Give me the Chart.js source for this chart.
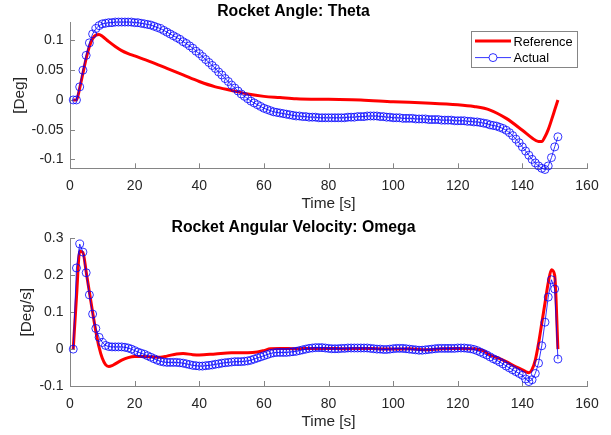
<!DOCTYPE html>
<html>
<head>
<meta charset="utf-8">
<script src="https://cdn.jsdelivr.net/npm/chart.js@4.4.1/dist/chart.umd.min.js"></script>
<style>
  html, body { margin: 0; padding: 0; background: #fff; }
  #wrap { position: relative; width: 611px; height: 435px; }
  canvas { position: absolute; left: 0; }
</style>
</head>
<body>
<div id="wrap">
  <canvas id="thetaChart" width="611" height="215" style="top:0"></canvas>
  <canvas id="omegaChart" width="611" height="220" style="top:215px"></canvas>
</div>
<script>
// sample times of the "Actual" series (one marker per second)
const sampleTime = [
  1, 2, 3, 4, 5, 6, 7, 8, 9, 10, 11, 12, 13, 14, 15, 16, 17, 18, 19, 20,
  21, 22, 23, 24, 25, 26, 27, 28, 29, 30, 31, 32, 33, 34, 35, 36, 37, 38, 39, 40,
  41, 42, 43, 44, 45, 46, 47, 48, 49, 50, 51, 52, 53, 54, 55, 56, 57, 58, 59, 60,
  61, 62, 63, 64, 65, 66, 67, 68, 69, 70, 71, 72, 73, 74, 75, 76, 77, 78, 79, 80,
  81, 82, 83, 84, 85, 86, 87, 88, 89, 90, 91, 92, 93, 94, 95, 96, 97, 98, 99, 100,
  101, 102, 103, 104, 105, 106, 107, 108, 109, 110, 111, 112, 113, 114, 115, 116, 117, 118, 119, 120,
  121, 122, 123, 124, 125, 126, 127, 128, 129, 130, 131, 132, 133, 134, 135, 136, 137, 138, 139, 140,
  141, 142, 143, 144, 145, 146, 147, 148, 149, 150, 151
];

// theta, actual [Deg]
const thetaActual = [
  0, 0, 0.022, 0.05, 0.075, 0.096, 0.111, 0.12, 0.125, 0.128,
  0.129, 0.13, 0.13, 0.131, 0.131, 0.131, 0.131, 0.131, 0.131, 0.13,
  0.13, 0.129, 0.128, 0.127, 0.126, 0.124, 0.122, 0.12, 0.117, 0.114,
  0.111, 0.108, 0.105, 0.102, 0.098, 0.095, 0.091, 0.087, 0.082, 0.078,
  0.073, 0.068, 0.063, 0.058, 0.053, 0.047, 0.042, 0.036, 0.031, 0.025,
  0.02, 0.015, 0.01, 0.006, 0.002, -0.002, -0.005, -0.008, -0.011, -0.014,
  -0.016, -0.018, -0.02, -0.021, -0.022, -0.023, -0.024, -0.025, -0.026, -0.027,
  -0.027, -0.028, -0.028, -0.029, -0.029, -0.029, -0.03, -0.03, -0.03, -0.03,
  -0.03, -0.03, -0.03, -0.03, -0.03, -0.029, -0.029, -0.029, -0.028, -0.028,
  -0.028, -0.027, -0.027, -0.027, -0.027, -0.028, -0.028, -0.029, -0.029, -0.03,
  -0.03, -0.03, -0.031, -0.031, -0.031, -0.031, -0.032, -0.032, -0.032, -0.032,
  -0.033, -0.033, -0.033, -0.033, -0.034, -0.034, -0.034, -0.034, -0.035, -0.035,
  -0.035, -0.035, -0.036, -0.036, -0.037, -0.037, -0.038, -0.039, -0.04, -0.042,
  -0.043, -0.044, -0.046, -0.048, -0.051, -0.055, -0.06, -0.066, -0.072, -0.079,
  -0.086, -0.093, -0.1, -0.106, -0.111, -0.115, -0.117, -0.111, -0.097, -0.079, -0.062
];

// theta, reference [Deg]
const thetaRefTime = [1, 2, 3, 4, 5, 6, 7, 8, 9, 10, 12, 14, 16, 18, 20, 25, 30, 35, 40, 45, 50,
  55, 60, 65, 70, 80, 90, 100, 110, 120, 125, 130, 135, 140, 143, 145, 146, 147, 148, 149, 150, 151];
const thetaRefValue = [0, 0, 0.02, 0.045, 0.07, 0.09, 0.103, 0.109, 0.11, 0.107, 0.098, 0.09, 0.083,
  0.078, 0.074, 0.064, 0.053, 0.042, 0.031, 0.022, 0.016, 0.01, 0.006, 0.004, 0.002, 0.001, 0,
  -0.003, -0.005, -0.008, -0.011, -0.017, -0.031, -0.051, -0.064, -0.07, -0.07, -0.062, -0.05,
  -0.034, -0.017, 0];

// omega, actual [Deg/s]
const omegaActual = [
  0, 0.22, 0.285, 0.263, 0.207, 0.147, 0.095, 0.056, 0.032, 0.018,
  0.01, 0.007, 0.006, 0.006, 0.006, 0.006, 0.005, 0.003, 0, -0.004,
  -0.008, -0.011, -0.014, -0.018, -0.022, -0.026, -0.03, -0.033, -0.035, -0.036,
  -0.036, -0.036, -0.036, -0.037, -0.038, -0.04, -0.042, -0.044, -0.045, -0.046,
  -0.046, -0.045, -0.044, -0.043, -0.041, -0.04, -0.038, -0.037, -0.036, -0.035,
  -0.034, -0.034, -0.034, -0.033, -0.032, -0.03, -0.027, -0.024, -0.021, -0.018,
  -0.015, -0.012, -0.01, -0.009, -0.009, -0.009, -0.009, -0.008, -0.007, -0.006,
  -0.004, -0.002, 0, 0.002, 0.003, 0.004, 0.004, 0.004, 0.003, 0.002,
  0.001, 0.001, 0.001, 0.002, 0.002, 0.003, 0.003, 0.003, 0.003, 0.003,
  0.003, 0.003, 0.002, 0.001, 0, 0, -0.001, -0.001, 0, 0.001,
  0.002, 0.002, 0.002, 0.001, 0, -0.001, -0.002, -0.003, -0.003, -0.002,
  -0.001, 0, 0.001, 0.002, 0.002, 0.002, 0.002, 0.002, 0.002, 0.003,
  0.003, 0.003, 0.002, 0.001, -0.001, -0.004, -0.008, -0.012, -0.016, -0.021,
  -0.026, -0.03, -0.035, -0.04, -0.046, -0.051, -0.056, -0.061, -0.066, -0.071,
  -0.081, -0.088, -0.083, -0.066, -0.038, 0.009, 0.073, 0.141, 0.188, 0.163, -0.027
];

// omega, reference [Deg/s]
const omegaRefTime = [1, 2, 3, 4, 5, 6, 7, 8, 9, 10, 11, 12, 13, 14, 16, 18, 20, 22, 25, 28, 30,
  33, 35, 38, 40, 45, 50, 55, 58, 60, 62, 65, 70, 75, 80, 85, 90, 95, 100, 105, 110, 115, 120,
  125, 128, 130, 133, 135, 138, 140, 141, 142, 143, 144, 145, 146, 147, 148, 149, 150, 151];
const omegaRefValue = [0, 0.14, 0.265, 0.262, 0.21, 0.155, 0.1, 0.048, 0.005, -0.025, -0.042,
  -0.047, -0.045, -0.04, -0.03, -0.023, -0.02, -0.02, -0.021, -0.022, -0.019, -0.013, -0.012,
  -0.015, -0.016, -0.013, -0.01, -0.01, -0.008, -0.004, 0.001, 0.002, 0.001, 0.002, 0.002, 0.001,
  0.002, 0.001, 0, 0.001, -0.002, 0.001, 0.002, 0.001, -0.005, -0.016, -0.026, -0.034, -0.048,
  -0.056, -0.061, -0.064, -0.055, -0.03, 0.015, 0.07, 0.125, 0.18, 0.215, 0.2, 0];

const timeTicks = [0, 20, 40, 60, 80, 100, 120, 140, 160];
const thetaTicks = [-0.1, -0.05, 0, 0.05, 0.1];
const omegaTicks = [-0.1, 0, 0.1, 0.2, 0.3];
const seriesNames = ["Reference", "Actual"];

const fontFamily = "'Liberation Sans', Arial, Helvetica, sans-serif";
const axisColor = "#858585";
const textColor = "#262626";

function pairs(xs, ys) {
  return xs.map((x, i) => ({ x: x, y: ys[i] }));
}

// matlab style ticks pointing into the plot
const innerTicks = {
  id: "innerTicks",
  beforeDatasetsDraw(chart) {
    const ctx = chart.ctx, xs = chart.scales.x, ys = chart.scales.y;
    ctx.save();
    ctx.strokeStyle = axisColor;
    ctx.lineWidth = 1;
    ctx.beginPath();
    xs.ticks.forEach(t => {
      const px = Math.round(xs.getPixelForValue(t.value)) + 0.5;
      ctx.moveTo(px, xs.top);
      ctx.lineTo(px, xs.top - 5);
    });
    ys.ticks.forEach(t => {
      const py = Math.round(ys.getPixelForValue(t.value)) + 0.5;
      ctx.moveTo(ys.right, py);
      ctx.lineTo(ys.right + 5, py);
    });
    ctx.stroke();
    ctx.restore();
  }
};

// boxed legend inside the top plot
const boxLegend = {
  id: "boxLegend",
  afterDraw(chart, args, opts) {
    if (!opts.show) return;
    const ctx = chart.ctx;
    const left = 471, top = 31, w = 106, h = 36;
    ctx.save();
    ctx.fillStyle = "#fff";
    ctx.fillRect(left, top, w, h);
    ctx.strokeStyle = axisColor;
    ctx.lineWidth = 1;
    ctx.strokeRect(left + 0.5, top + 0.5, w, h);
    ctx.font = "12.8px " + fontFamily;
    ctx.textBaseline = "middle";
    seriesNames.forEach((name, i) => {
      const ds = chart.data.datasets.find(d => d.label === name);
      const y = top + 10 + i * 16.6;
      ctx.strokeStyle = ds.borderColor;
      ctx.lineWidth = ds.borderWidth;
      ctx.beginPath();
      ctx.moveTo(left + 4, y);
      ctx.lineTo(left + 40, y);
      ctx.stroke();
      if (ds.pointRadius > 0) {
        ctx.beginPath();
        ctx.arc(left + 22, y, ds.pointRadius, 0, Math.PI * 2);
        ctx.fillStyle = "#fff";
        ctx.fill();
        ctx.stroke();
      }
      ctx.fillStyle = "#000";
      ctx.fillText(name, left + 42.5, y + 1);
    });
    ctx.restore();
  }
};

function makeChart(id, title, yLabel, actual, refTime, refValue, yMin, yMax, yTicks, lay) {
  return new Chart(document.getElementById(id), {
    type: "line",
    data: {
      datasets: [
        {
          label: seriesNames[1],
          data: pairs(sampleTime, actual),
          borderColor: "#0000ff",
          borderWidth: 0.8,
          pointRadius: 4,
          pointBorderWidth: 0.8,
          pointBorderColor: "#0000ff",
          pointBackgroundColor: "rgba(0,0,0,0)",
          order: 0,
          clip: false
        },
        {
          label: seriesNames[0],
          data: pairs(refTime, refValue),
          borderColor: "#ff0000",
          borderWidth: 3,
          pointRadius: 0,
          cubicInterpolationMode: "monotone",
          order: 1,
          clip: false
        }
      ]
    },
    options: {
      responsive: false,
      animation: false,
      events: [],
      layout: { padding: { left: 0, right: 24, top: 0, bottom: 0 } },
      plugins: {
        legend: { display: false },
        tooltip: { enabled: false },
        boxLegend: { show: lay.legend },
        title: {
          display: true,
          text: title,
          color: "#000",
          font: { family: fontFamily, size: 15.8, weight: "bold" },
          padding: { top: lay.titleTop, bottom: lay.titleBottom }
        }
      },
      scales: {
        x: {
          type: "linear",
          min: 0,
          max: 160,
          grid: { display: false, drawTicks: false },
          border: { display: true, color: axisColor, width: 1 },
          ticks: {
            color: textColor,
            font: { family: fontFamily, size: 14 },
            padding: 9.5,
            maxRotation: 0,
            callback: v => String(v)
          },
          afterBuildTicks: s => { s.ticks = timeTicks.map(v => ({ value: v })); },
          afterFit: s => { s.height = lay.xHeight; },
          title: {
            display: true,
            text: "Time [s]",
            color: textColor,
            font: { family: fontFamily, size: 15.4 },
            padding: { top: 0, bottom: lay.xTitleBottom }
          }
        },
        y: {
          type: "linear",
          min: yMin,
          max: yMax,
          grid: { display: false, drawTicks: false },
          border: { display: true, color: axisColor, width: 1 },
          ticks: {
            color: textColor,
            font: { family: fontFamily, size: 14 },
            padding: 6.5,
            callback: v => String(v)
          },
          afterBuildTicks: s => { s.ticks = yTicks.map(v => ({ value: v })); },
          afterFit: s => { s.width = 70; },
          title: {
            display: true,
            text: yLabel,
            color: textColor,
            font: { family: fontFamily, size: 15.4 },
            padding: { top: lay.yTitleTop, bottom: 0 }
          }
        }
      }
    },
    plugins: [innerTicks, boxLegend]
  });
}

makeChart("thetaChart", "Rocket Angle: Theta", "[Deg]", thetaActual, thetaRefTime, thetaRefValue,
  -0.115, 0.13, thetaTicks,
  { titleTop: 2.2, titleBottom: 1.5, xHeight: 46.7, xTitleBottom: 1.8, yTitleTop: 10.8, legend: true });

makeChart("omegaChart", "Rocket Angular Velocity: Omega", "[Deg/s]", omegaActual, omegaRefTime, omegaRefValue,
  -0.1, 0.3, omegaTicks,
  { titleTop: 3.5, titleBottom: 1.0, xHeight: 49, xTitleBottom: 4.1, yTitleTop: 17.8, legend: false });
</script>
</body>
</html>
